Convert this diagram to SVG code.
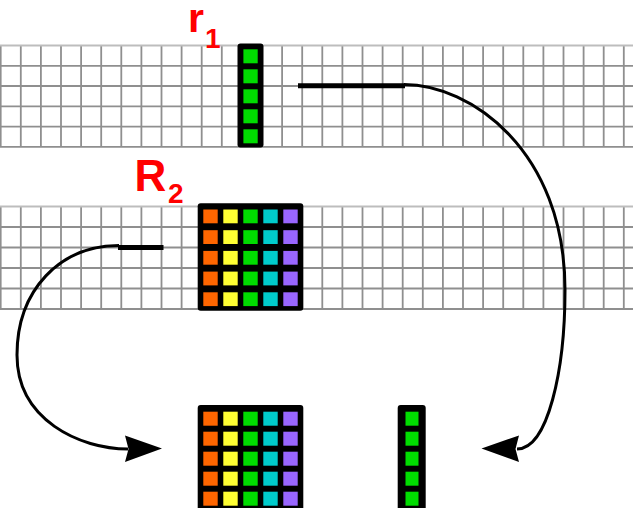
<svg xmlns="http://www.w3.org/2000/svg" width="633" height="508" viewBox="0 0 633 508">
<defs>
<style>
.grid{stroke:#8f8f8f;stroke-width:1.8;fill:none}
.gridtop{stroke:#bdbdbd;stroke-width:1.8;fill:none}
.lbl{font-family:"Liberation Sans",Arial,sans-serif;font-weight:bold;fill:#ff0000}
.blk{fill:#000}
.g{fill:#00dd00}
.o{fill:#ff6600}
.y{fill:#ffff33}
.c{fill:#00cccc}
.p{fill:#9966ff}
.bar{stroke:#000;stroke-width:5;fill:none}
.curve{stroke:#000;stroke-width:3;fill:none}
.head{fill:#000}
</style>
<path id="vlines1" d="M0.7 45.5V146.8M20.8 45.5V146.8M40.9 45.5V146.8M61 45.5V146.8M81.1 45.5V146.8M101.2 45.5V146.8M121.3 45.5V146.8M141.4 45.5V146.8M161.5 45.5V146.8M181.6 45.5V146.8M201.7 45.5V146.8M221.8 45.5V146.8M241.9 45.5V146.8M262 45.5V146.8M282.1 45.5V146.8M302.2 45.5V146.8M322.3 45.5V146.8M342.4 45.5V146.8M362.5 45.5V146.8M382.6 45.5V146.8M402.7 45.5V146.8M422.8 45.5V146.8M442.9 45.5V146.8M463 45.5V146.8M483.1 45.5V146.8M503.2 45.5V146.8M523.3 45.5V146.8M543.4 45.5V146.8M563.5 45.5V146.8M583.6 45.5V146.8M603.7 45.5V146.8M623.8 45.5V146.8"/>
<path id="vlines2" d="M0.7 206.5V309M20.8 206.5V309M40.9 206.5V309M61 206.5V309M81.1 206.5V309M101.2 206.5V309M121.3 206.5V309M141.4 206.5V309M161.5 206.5V309M181.6 206.5V309M201.7 206.5V309M221.8 206.5V309M241.9 206.5V309M262 206.5V309M282.1 206.5V309M302.2 206.5V309M322.3 206.5V309M342.4 206.5V309M362.5 206.5V309M382.6 206.5V309M402.7 206.5V309M422.8 206.5V309M442.9 206.5V309M463 206.5V309M483.1 206.5V309M503.2 206.5V309M523.3 206.5V309M543.4 206.5V309M563.5 206.5V309M583.6 206.5V309M603.7 206.5V309M623.8 206.5V309"/>
</defs>
<rect width="633" height="508" fill="#fff"/>

<g id="grid1">
<use href="#vlines1" class="grid"/>
<path class="gridtop" d="M0 45.5H633"/>
<path class="grid" d="M0 65.8H633M0 86H633M0 106.3H633M0 126.6H633M0 146.8H633"/>
</g>
<g id="grid2">
<use href="#vlines2" class="grid"/>
<path class="gridtop" d="M0 206.5H633"/>
<path class="grid" d="M0 227H633M0 247.5H633M0 268H633M0 288.5H633M0 309H633"/>
</g>

<g id="connectors">
<path class="bar" d="M298 85.8H405"/>
<path class="curve" d="M404 84.5C470 84.5 565 150 565 290C565 370 548 449 517 449"/>
<polygon class="head" points="481.5,448.5 519,435.5 515.5,449 519,462"/>
<path class="bar" d="M118 247.5H163.5"/>
<path class="curve" d="M119 245.5C60 245.5 17 290 17 355C17 420 80 449 128 449"/>
<polygon class="head" points="162,448.5 125,435.5 128.5,449 125,462"/>
</g>

<g id="r1">
<text class="lbl" x="188" y="31.5" font-size="41">r</text>
<text class="lbl" x="205" y="48.3" font-size="28">1</text>
<rect class="blk" x="237.5" y="43.5" width="26" height="104" rx="3"/>
<rect class="g" x="243.4" y="49.3" width="14.3" height="14"/>
<rect class="g" x="243.4" y="69.3" width="14.3" height="14"/>
<rect class="g" x="243.4" y="89.3" width="14.3" height="14"/>
<rect class="g" x="243.4" y="109.3" width="14.3" height="14"/>
<rect class="g" x="243.4" y="129.3" width="14.3" height="14"/>
</g>

<g id="R2">
<text class="lbl" x="134.5" y="191" font-size="44">R</text>
<text class="lbl" x="168" y="203.3" font-size="28">2</text>
<rect class="blk" x="197.7" y="203.3" width="105.6" height="107.4" rx="3"/>
<g id="R2cells">
<rect class="o" x="203.3" y="209.5" width="14.4" height="13.8"/><rect class="y" x="223.3" y="209.5" width="14.4" height="13.8"/><rect class="g" x="243.3" y="209.5" width="14.4" height="13.8"/><rect class="c" x="263.3" y="209.5" width="14.4" height="13.8"/><rect class="p" x="283.3" y="209.5" width="14.4" height="13.8"/>
<rect class="o" x="203.3" y="230.2" width="14.4" height="13.8"/><rect class="y" x="223.3" y="230.2" width="14.4" height="13.8"/><rect class="g" x="243.3" y="230.2" width="14.4" height="13.8"/><rect class="c" x="263.3" y="230.2" width="14.4" height="13.8"/><rect class="p" x="283.3" y="230.2" width="14.4" height="13.8"/>
<rect class="o" x="203.3" y="250.9" width="14.4" height="13.8"/><rect class="y" x="223.3" y="250.9" width="14.4" height="13.8"/><rect class="g" x="243.3" y="250.9" width="14.4" height="13.8"/><rect class="c" x="263.3" y="250.9" width="14.4" height="13.8"/><rect class="p" x="283.3" y="250.9" width="14.4" height="13.8"/>
<rect class="o" x="203.3" y="271.6" width="14.4" height="13.8"/><rect class="y" x="223.3" y="271.6" width="14.4" height="13.8"/><rect class="g" x="243.3" y="271.6" width="14.4" height="13.8"/><rect class="c" x="263.3" y="271.6" width="14.4" height="13.8"/><rect class="p" x="283.3" y="271.6" width="14.4" height="13.8"/>
<rect class="o" x="203.3" y="292.3" width="14.4" height="13.8"/><rect class="y" x="223.3" y="292.3" width="14.4" height="13.8"/><rect class="g" x="243.3" y="292.3" width="14.4" height="13.8"/><rect class="c" x="263.3" y="292.3" width="14.4" height="13.8"/><rect class="p" x="283.3" y="292.3" width="14.4" height="13.8"/>
</g>
</g>

<g id="result-matrix">
<rect class="blk" x="197.7" y="405" width="105.6" height="110" rx="3"/>
<rect class="o" x="203.3" y="411.7" width="14.4" height="14"/><rect class="y" x="223.3" y="411.7" width="14.4" height="14"/><rect class="g" x="243.3" y="411.7" width="14.4" height="14"/><rect class="c" x="263.3" y="411.7" width="14.4" height="14"/><rect class="p" x="283.3" y="411.7" width="14.4" height="14"/>
<rect class="o" x="203.3" y="431.7" width="14.4" height="14"/><rect class="y" x="223.3" y="431.7" width="14.4" height="14"/><rect class="g" x="243.3" y="431.7" width="14.4" height="14"/><rect class="c" x="263.3" y="431.7" width="14.4" height="14"/><rect class="p" x="283.3" y="431.7" width="14.4" height="14"/>
<rect class="o" x="203.3" y="451.7" width="14.4" height="14"/><rect class="y" x="223.3" y="451.7" width="14.4" height="14"/><rect class="g" x="243.3" y="451.7" width="14.4" height="14"/><rect class="c" x="263.3" y="451.7" width="14.4" height="14"/><rect class="p" x="283.3" y="451.7" width="14.4" height="14"/>
<rect class="o" x="203.3" y="471.7" width="14.4" height="14"/><rect class="y" x="223.3" y="471.7" width="14.4" height="14"/><rect class="g" x="243.3" y="471.7" width="14.4" height="14"/><rect class="c" x="263.3" y="471.7" width="14.4" height="14"/><rect class="p" x="283.3" y="471.7" width="14.4" height="14"/>
<rect class="o" x="203.3" y="491.7" width="14.4" height="14"/><rect class="y" x="223.3" y="491.7" width="14.4" height="14"/><rect class="g" x="243.3" y="491.7" width="14.4" height="14"/><rect class="c" x="263.3" y="491.7" width="14.4" height="14"/><rect class="p" x="283.3" y="491.7" width="14.4" height="14"/>
</g>

<g id="result-vector">
<rect class="blk" x="397.7" y="405" width="28" height="110" rx="3"/>
<rect class="g" x="405.5" y="411.7" width="13" height="14"/>
<rect class="g" x="405.5" y="431.7" width="13" height="14"/>
<rect class="g" x="405.5" y="451.7" width="13" height="14"/>
<rect class="g" x="405.5" y="471.7" width="13" height="14"/>
<rect class="g" x="405.5" y="491.7" width="13" height="14"/>
</g>
</svg>
